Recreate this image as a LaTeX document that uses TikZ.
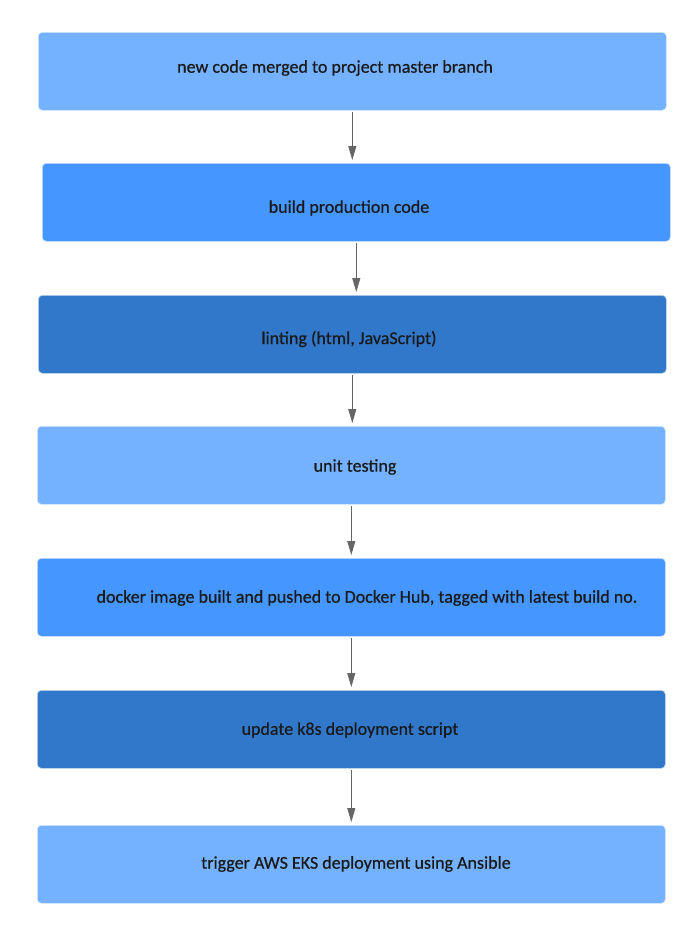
\documentclass[tikz,border=0pt]{standalone}
\usepackage{fontspec}
\newfontfamily\boxfont{Carlito}[FakeBold=0.5]
\usetikzlibrary{arrows.meta}
\definecolor{cLight}{HTML}{74B1FF}
\definecolor{cMid}{HTML}{4596FF}
\definecolor{cDark}{HTML}{3278CA}
\definecolor{cArrow}{HTML}{666666}
\tikzset{
  stepbox/.style={rectangle, rounded corners=4pt, draw=white!70!#1, line width=0.6pt, fill=#1, minimum width=628pt, minimum height=78pt, inner sep=0pt, anchor=north west},
  steptext/.style={font=\boxfont\fontsize{18}{21}\selectfont, text=black!90, inner sep=0pt},
  arr/.style={draw=cArrow, line width=0.9pt, -{Triangle[length=14pt,width=8pt]}, shorten <=1.5pt, shorten >=3pt}
}
\begin{document}
\begin{tikzpicture}[x=1pt,y=-1pt]
\useasboundingbox[fill=white] (0,0) rectangle (699,937);
\node[stepbox=cLight] (b1) at (38,32) {};
\node[stepbox=cMid]   (b2) at (42,163) {};
\node[stepbox=cDark]  (b3) at (38,295) {};
\node[stepbox=cLight] (b4) at (37,426) {};
\node[stepbox=cMid]   (b5) at (37,558) {};
\node[stepbox=cDark]  (b6) at (37,690) {};
\node[stepbox=cLight] (b7) at (37,825) {};
\node[steptext] (t1) at (335,68) {new code merged to project master branch};
\node[steptext] (t2) at (349,208) {build production code};
\node[steptext] (t3) at (349,339) {linting (html, JavaScript)};
\node[steptext] (t4) at (355,467) {unit testing};
\node[steptext] (t5) at (367,598) {docker image built and pushed to Docker Hub, tagged with latest build no.};
\node[steptext] (t6) at (350,730) {update k8s deployment script};
\node[steptext] (t7) at (356,864) {trigger AWS EKS deployment using Ansible};
\draw[arr] (b1.south) -- (b1.south |- b2.north);
\draw[arr] (b2.south) -- (b2.south |- b3.north);
\draw[arr] (b3.south) -- (b3.south |- b4.north);
\draw[arr] (b4.south) -- (b4.south |- b5.north);
\draw[arr] (b5.south) -- (b5.south |- b6.north);
\draw[arr] (b6.south) -- (b6.south |- b7.north);
\end{tikzpicture}
\end{document}
